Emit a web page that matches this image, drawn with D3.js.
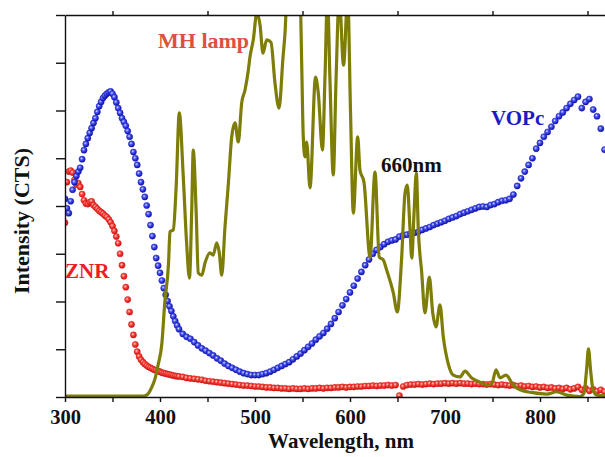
<!DOCTYPE html>
<html>
<head>
<meta charset="utf-8">
<script src="https://cdn.jsdelivr.net/npm/d3@7"></script>
<style>
body{margin:0;background:#fff;}
text{font-family:"Liberation Serif","Times New Roman",serif;font-weight:bold;}
</style>
</head>
<body>
<svg id="chart" width="605" height="457"></svg>
<script>
var largeur = 605;
var hauteur = 457;

//------------------- données -------------------
// grille des points mesurés (nm) : pas de 2 nm jusqu'à 420, puis 4 nm
var wlPoints = d3.range(300, 420, 2).concat(d3.range(420, 869, 4));

// ZNR (points rouges)
var znr = [
  3.65,4.50,4.72,4.74,4.70,4.55,4.45,4.48,4.40,4.25,
  4.12,4.05,4.04,4.08,4.10,4.02,3.98,3.94,3.90,3.87,
  3.84,3.80,3.77,3.72,3.66,3.58,3.48,3.36,3.22,3.00,
  2.76,2.53,2.30,2.04,1.78,1.52,1.30,1.10,0.95,0.85,
  0.78,0.73,0.69,0.66,0.63,0.61,0.59,0.57,0.56,0.54,
  0.53,0.51,0.50,0.49,0.48,0.47,0.46,0.45,0.44,0.435,
  // à partir de 420 nm, pas de 4 nm
  0.43,0.42,0.40,0.39,0.38,0.37,0.36,0.34,0.33,0.32,
  0.31,0.30,0.29,0.28,0.27,0.26,0.25,0.24,0.24,0.23,
  0.22,0.22,0.21,0.20,0.20,0.19,0.19,0.18,0.18,0.17,
  0.18,0.17,0.17,0.18,0.17,0.18,0.18,0.19,0.18,0.19,
  0.19,0.20,0.20,0.21,0.20,0.21,0.21,0.22,0.22,0.23,
  0.23,0.24,0.23,0.24,0.24,0.25,0.24,0.25,0.03,0.22,
  0.25,0.26,0.26,0.27,0.26,0.27,0.28,0.27,0.28,0.28,
  0.29,0.28,0.29,0.28,0.29,0.28,0.28,0.27,0.28,0.27,
  0.27,0.26,0.27,0.26,0.25,0.26,0.25,0.24,0.25,0.23,
  0.24,0.22,0.23,0.21,0.22,0.20,0.21,0.19,0.20,0.18,
  0.19,0.17,0.19,0.16,0.18,0.21,0.15,0.18,0.13,0.16,
  0.12,0.15,0.11
];

// VOPc (points bleus)
var vopc = [
  4.15,3.95,3.85,4.10,4.34,4.50,4.63,4.72,4.80,4.98,
  5.17,5.30,5.42,5.53,5.63,5.74,5.84,5.97,6.09,6.18,
  6.26,6.31,6.35,6.38,6.40,6.35,6.28,6.17,6.05,5.95,
  5.84,5.76,5.68,5.57,5.45,5.30,5.13,5.00,4.86,4.68,
  4.50,4.35,4.19,4.01,3.83,3.60,3.37,3.14,2.91,2.75,
  2.60,2.44,2.28,2.14,2.01,1.90,1.80,1.69,1.59,1.50,
  // à partir de 420 nm, pas de 4 nm
  1.42,1.32,1.26,1.22,1.15,1.08,1.02,0.97,0.92,0.87,
  0.81,0.76,0.70,0.65,0.61,0.57,0.53,0.50,0.48,0.46,
  0.46,0.46,0.48,0.50,0.53,0.57,0.61,0.65,0.69,0.73,
  0.79,0.85,0.91,0.98,1.05,1.12,1.20,1.27,1.34,1.43,
  1.53,1.65,1.78,1.92,2.05,2.19,2.33,2.48,2.62,2.76,
  2.88,3.00,3.08,3.14,3.20,3.25,3.28,3.30,3.36,3.39,
  3.40,3.42,3.44,3.46,3.50,3.53,3.56,3.60,3.63,3.66,
  3.69,3.73,3.76,3.79,3.83,3.86,3.89,3.92,3.95,3.98,
  3.99,3.98,4.02,4.04,4.08,4.11,4.12,4.15,4.24,4.42,
  4.58,4.72,4.86,5.00,5.20,5.32,5.45,5.55,5.66,5.78,
  5.88,5.96,6.05,6.14,6.22,6.29,6.05,6.18,6.24,6.02,
  5.88,5.62,5.18
];

// lampe MH (courbe olive)
var lampWl = [
  300,382,387,391,395,398,402,405,409,410.5,
  414,417,420.3,424.5,428,431,433.4,435,438,440.3,
  444,447.4,452.6,456,459.7,462.4,465,468.4,472,475.5,
  479,482.4,486,489.5,493,494.7,498.2,502,505.3,508.4,
  512.3,516.8,521,525.3,529.5,531.6,533.7,547.4,549.2,550.8,
  552.6,554.4,557.9,563.7,566.6,571,573.7,576.3,578.9,582.4,
  585.3,588.7,593.2,597.6,600.5,603.5,608.1,610.5,614.7,621.1,
  626.3,630.8,635,638.6,645.6,649.8,654.4,657.9,660.3,663.2,
  665,667.4,669.8,671.9,675.5,678.9,683.5,687.1,690.5,694.7,
  698.2,703.5,708.7,715.8,721,728.1,736.8,744.5,749.5,753.7,
  757.9,764.2,771.9,778.9,792.6,807,817.6,828.1,842.1,846.3,
  849,851,853.2,855.8,860,870
];
var lampVal = [
  0.02,0.02,0.06,0.19,0.40,0.67,1.13,1.97,2.81,3.46,
  3.50,4.40,5.95,4.61,3.23,2.49,3.92,5.17,3.92,2.60,
  2.55,2.81,3.02,2.97,3.23,3.02,2.55,3.56,4.48,5.45,
  5.74,5.34,6.16,6.43,6.85,7.12,7.48,8.05,7.79,7.20,
  7.48,7.43,6.58,6.05,7.12,7.62,8.40,8.40,6.93,5.45,
  5.03,5.34,4.38,6.70,6.37,5.17,6.72,8.40,6.64,4.65,
  6.64,8.40,6.95,8.40,6.01,3.85,5.45,4.75,4.50,2.93,
  4.71,2.93,2.87,2.66,2.18,1.78,2.93,4.27,4.44,3.50,
  2.91,3.85,4.69,3.50,2.60,1.76,2.51,1.76,1.47,1.93,
  1.26,0.69,0.46,0.42,0.54,0.40,0.31,0.25,0.29,0.57,
  0.40,0.46,0.25,0.15,0.09,0.06,0.11,0.04,0.01,0.08,
  0.57,1.01,0.57,0.15,0.04,0.02
];

var xTicks = [300,350,400,450,500,550,600,650,700,750,800,850];
var xTopTicks = [350,450,550,650,750,850];
var yTicks = [0,1,2,3,4,5,6,7,8];

//------------------- échelles -------------------
var svg = d3.select("#chart");
var x = d3.scaleLinear().domain([300, 900]).range([65, 635]);
var y = d3.scaleLinear().domain([0, 8]).range([397, 15]);

var defs = svg.append("defs");
defs.append("clipPath").attr("id", "zone")
    .append("rect").attr("x", 65).attr("y", 15).attr("width", 570).attr("height", 382);

function boule(id, c0, c1, c2){
    var g = defs.append("radialGradient").attr("id", id)
        .attr("cx", "40%").attr("cy", "38%").attr("r", "62%");
    g.append("stop").attr("offset", "0%").attr("stop-color", c0);
    g.append("stop").attr("offset", "35%").attr("stop-color", c1);
    g.append("stop").attr("offset", "100%").attr("stop-color", c2);
}
boule("rouge", "#ffe0da", "#ff5248", "#c80a0a");
boule("bleu", "#dfe4ff", "#4e5cff", "#0c0c9c");

var plot = svg.append("g").attr("clip-path", "url(#zone)");

//------------------- points ZNR et VOPc -------------------
plot.append("g").selectAll("circle")
    .data(znr)
    .enter().append("circle")
    .attr("cx", function(d, i){ return x(wlPoints[i]); })
    .attr("cy", function(d){ return y(d); })
    .attr("r", 3.1)
    .attr("fill", "url(#rouge)")
    .attr("stroke", "#d41818").attr("stroke-width", 0.5);

plot.append("g").selectAll("circle")
    .data(vopc)
    .enter().append("circle")
    .attr("cx", function(d, i){ return x(wlPoints[i]); })
    .attr("cy", function(d){ return y(d); })
    .attr("r", 3.1)
    .attr("fill", "url(#bleu)")
    .attr("stroke", "#1a1ab4").attr("stroke-width", 0.5);

//------------------- lampe -------------------
var ligne = d3.line()
    .x(function(d, i){ return x(lampWl[i]); })
    .y(function(d){ return y(d); })
    .curve(d3.curveMonotoneX);

plot.append("path")
    .attr("d", ligne(lampVal))
    .attr("fill", "none")
    .attr("stroke", "#7d7d08")
    .attr("stroke-width", 3.2)
    .attr("stroke-linejoin", "round");

//------------------- axes -------------------
var axeBas = svg.append("g").attr("transform", "translate(0,397)")
    .call(d3.axisBottom(x).tickValues(xTicks).tickSize(5).tickSizeOuter(0).tickPadding(7)
        .tickFormat(function(d){ return d % 100 === 0 ? d : ""; }));
axeBas.selectAll("text").attr("font-size", 20.5).attr("fill", "#111")
    .style("font-family", '"Liberation Serif","Times New Roman",serif').style("font-weight", "bold");

svg.append("g").attr("transform", "translate(0,15)")
    .call(d3.axisTop(x).tickValues(xTopTicks).tickSize(4).tickSizeOuter(0).tickFormat(""));

svg.append("g").attr("transform", "translate(65,0)")
    .call(d3.axisLeft(y).tickValues(yTicks).tickSize(9).tickSizeOuter(0).tickFormat(""));

svg.selectAll(".domain, .tick line").attr("stroke", "#111").attr("stroke-width", 1.4);

//------------------- textes -------------------
svg.append("text").attr("x", 341).attr("y", 448).attr("text-anchor", "middle")
    .attr("font-size", 21).attr("fill", "#111").text("Wavelength, nm");

svg.append("text").attr("transform", "translate(29,221) rotate(-90)")
    .attr("text-anchor", "middle").attr("font-size", 22).attr("fill", "#111")
    .text("Intensity (CTS)");

svg.append("text").attr("x", 158).attr("y", 48).attr("font-size", 22)
    .attr("fill", "#de5040").text("MH lamp");
svg.append("text").attr("x", 65).attr("y", 278).attr("font-size", 21)
    .attr("fill", "#ee1c24").text("ZNR");
svg.append("text").attr("x", 491).attr("y", 125).attr("font-size", 21)
    .attr("fill", "#1c1cc4").text("VOPc");
svg.append("text").attr("x", 381).attr("y", 172).attr("font-size", 21)
    .attr("fill", "#111").text("660nm");
</script>
</body>
</html>
